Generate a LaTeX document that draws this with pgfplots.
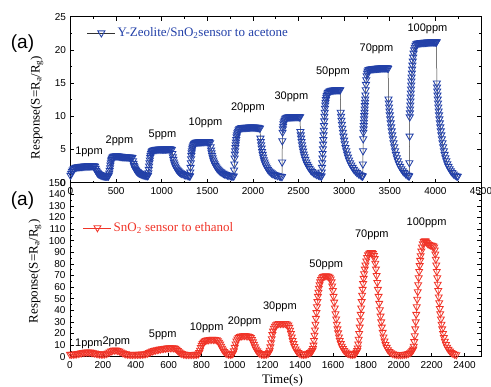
\documentclass[border=0pt]{standalone}
\usepackage{fontspec}
\setmainfont{Liberation Serif}
\setsansfont{Liberation Sans}
\usepackage{pgfplots}
\usepackage{pgfplotstable}
\pgfplotsset{compat=1.18}
\definecolor{zblue}{RGB}{34,64,168}
\definecolor{sred}{RGB}{240,52,40}
\definecolor{lgray}{RGB}{50,50,50}

\pgfplotstableread{
t y
0 1.1
8 1.4
16 1.7
24 1.9
32 2.05
40 2.15
50 2.25
60 2.3
70 2.35
80 2.4
90 2.4
100 2.42
110 2.44
120 2.45
130 2.46
140 2.47
150 2.48
160 2.5
170 2.5
180 2.5
190 2.52
200 2.52
210 2.53
220 2.54
230 2.55
240 2.55
250 2.55
260 2.55
268 2.45
275 2.15
282 1.85
290 1.62
298 1.47
306 1.36
315 1.27
325 1.2
335 1.14
345 1.1
355 1.06
365 1.03
375 1.02
385 1.0
395 1.0
405 1.0
415 1.0
420 1.15
425 1.45
430 1.85
434 2.25
438 2.65
442 3.0
446 3.3
450 3.5
455 3.7
462 3.85
470 3.95
480 4.0
490 4.02
500 4.03
510 4.03
520 4.02
530 4.0
540 3.98
550 3.96
560 3.95
570 3.93
580 3.92
590 3.9
600 3.9
610 3.88
620 3.87
630 3.86
640 3.85
650 3.84
660 3.83
670 3.82
678 3.78
685 3.3
690 2.9
695 2.6
700 2.4
706 2.2
712 2.0
720 1.85
728 1.72
736 1.62
745 1.52
755 1.44
765 1.37
775 1.3
785 1.25
795 1.2
805 1.16
815 1.13
825 1.1
835 1.08
845 1.05
850 1.1
854 1.5
858 2.0
862 2.5
866 3.0
870 3.4
874 3.8
878 4.1
883 4.4
888 4.6
894 4.75
900 4.85
910 4.92
920 4.96
930 5.0
940 5.02
950 5.03
960 5.04
970 5.05
980 5.05
990 5.05
1000 5.06
1010 5.06
1020 5.06
1030 5.07
1040 5.07
1050 5.07
1060 5.08
1070 5.08
1080 5.08
1090 5.08
1100 5.06
1110 4.98
1117 4.4
1122 3.9
1127 3.5
1133 3.1
1140 2.8
1148 2.5
1156 2.25
1165 2.05
1175 1.88
1185 1.73
1196 1.6
1208 1.48
1220 1.38
1235 1.3
1250 1.22
1265 1.15
1280 1.1
1295 1.06
1305 1.03
1310 1.0
1313 1.6
1316 2.3
1319 3.0
1322 3.6
1325 4.1
1328 4.5
1331 4.8
1335 5.1
1339 5.35
1344 5.55
1350 5.75
1357 5.9
1365 6.0
1375 6.08
1385 6.1
1395 6.12
1405 6.14
1415 6.15
1425 6.16
1435 6.17
1445 6.18
1455 6.18
1465 6.19
1475 6.2
1485 6.2
1495 6.2
1505 6.2
1515 6.18
1523 6.12
1530 6.0
1536 5.4
1541 4.9
1546 4.5
1552 4.1
1558 3.75
1565 3.4
1572 3.1
1580 2.85
1588 2.6
1597 2.4
1606 2.2
1616 2.05
1627 1.9
1638 1.75
1650 1.62
1663 1.5
1677 1.4
1691 1.3
1706 1.22
1721 1.15
1736 1.1
1751 1.05
1766 1.0
1780 0.98
1790 1.0
1793 1.9
1796 2.8
1799 3.7
1802 4.3
1805 4.8
1808 5.3
1811 5.7
1814 6.1
1817 6.5
1821 6.9
1825 7.2
1830 7.5
1836 7.75
1843 7.95
1851 8.1
1860 8.2
1870 8.25
1880 8.28
1890 8.3
1900 8.31
1910 8.32
1920 8.33
1930 8.34
1940 8.35
1950 8.35
1960 8.36
1970 8.36
1980 8.37
1990 8.37
2000 8.37
2010 8.37
2020 8.36
2030 8.35
2040 8.34
2050 8.32
2060 8.3
2070 8.27
2077 8.2
2082 6.7
2086 6.2
2090 5.7
2095 5.2
2100 4.7
2106 4.25
2112 3.85
2119 3.45
2127 3.1
2135 2.8
2144 2.5
2154 2.25
2165 2.0
2177 1.8
2190 1.62
2204 1.47
2219 1.34
2235 1.23
2252 1.14
2270 1.07
2290 1.0
2305 0.95
2318 0.9
2320 3.1
2322 6.3
2325 7.6
2328 8.1
2331 8.5
2335 8.85
2340 9.15
2346 9.4
2353 9.6
2362 9.75
2372 9.85
2382 9.88
2392 9.9
2402 9.9
2412 9.92
2422 9.92
2432 9.93
2442 9.93
2452 9.94
2462 9.94
2472 9.95
2482 9.95
2492 9.95
2502 9.94
2510 9.92
2516 9.9
2520 7.7
2524 7.2
2528 6.7
2533 6.2
2538 5.7
2544 5.2
2550 4.75
2557 4.3
2565 3.9
2574 3.5
2584 3.1
2595 2.75
2607 2.45
2620 2.15
2634 1.9
2649 1.68
2665 1.5
2682 1.35
2700 1.22
2718 1.12
2735 1.05
2748 1.0
2752 1.0
2754 1.6
2757 2.3
2759 3.0
2762 3.7
2764 4.4
2767 5.1
2769 5.8
2772 6.5
2774 7.2
2777 7.9
2779 8.6
2782 9.3
2784 10.0
2787 10.6
2790 11.2
2793 11.7
2796 12.1
2800 12.5
2805 12.85
2810 13.1
2816 13.35
2823 13.55
2831 13.7
2840 13.8
2850 13.85
2860 13.9
2870 13.92
2880 13.94
2890 13.96
2900 13.97
2910 13.98
2920 13.99
2930 14.0
2940 14.0
2950 14.0
2958 14.0
2962 10.6
2966 10.0
2970 9.4
2975 8.8
2980 8.2
2986 7.6
2992 7.0
2999 6.4
3006 5.85
3014 5.3
3023 4.8
3032 4.3
3042 3.85
3053 3.4
3065 3.0
3078 2.65
3092 2.3
3107 2.0
3123 1.75
3140 1.52
3158 1.33
3176 1.18
3193 1.05
3200 1.0
3203 1.0
3205 2.8
3207 4.8
3209 6.6
3211 7.6
3213 8.1
3215 8.6
3217 9.1
3219 9.6
3221 10.1
3223 10.6
3225 11.1
3227 11.6
3229 12.1
3231 12.6
3233 13.2
3236 14.0
3239 14.8
3242 15.5
3246 16.1
3251 16.5
3257 16.8
3265 17.0
3275 17.05
3285 17.1
3295 17.12
3305 17.14
3315 17.16
3325 17.18
3335 17.2
3345 17.21
3355 17.22
3365 17.23
3375 17.24
3385 17.25
3395 17.26
3405 17.27
3415 17.28
3425 17.28
3435 17.29
3445 17.3
3455 17.3
3465 17.3
3475 17.28
3482 17.2
3486 12.6
3489 12.0
3492 11.4
3496 10.8
3500 10.2
3505 9.6
3510 9.0
3515 8.4
3521 7.8
3527 7.2
3534 6.6
3541 6.0
3549 5.4
3558 4.8
3567 4.25
3577 3.75
3588 3.3
3600 2.85
3613 2.45
3627 2.1
3642 1.8
3658 1.55
3675 1.33
3692 1.15
3705 1.05
3713 1.0
3715 3.0
3717 7.0
3719 9.9
3721 10.5
3723 11.1
3725 11.7
3727 12.3
3729 12.9
3731 13.5
3733 14.1
3735 14.7
3737 15.3
3739 15.9
3742 16.5
3745 17.1
3748 17.7
3752 18.3
3756 18.9
3761 19.5
3767 20.0
3774 20.4
3782 20.7
3792 20.9
3802 21.0
3812 21.02
3822 21.04
3832 21.06
3842 21.08
3852 21.1
3862 21.11
3872 21.12
3882 21.13
3892 21.14
3902 21.15
3912 21.16
3922 21.17
3932 21.18
3942 21.18
3952 21.19
3962 21.2
3972 21.2
3982 21.2
3992 21.2
4002 21.2
4010 21.2
4013 21.2
4016 15.0
4018 14.4
4020 13.8
4023 13.2
4026 12.6
4029 12.0
4032 11.4
4036 10.8
4040 10.2
4044 9.6
4049 9.0
4054 8.4
4059 7.8
4065 7.2
4071 6.6
4078 6.0
4085 5.4
4093 4.8
4101 4.25
4110 3.75
4120 3.3
4131 2.85
4143 2.45
4156 2.1
4170 1.8
4185 1.52
4201 1.3
4218 1.12
4235 1.0
4245 0.95
}\acetone

\pgfplotstableread{
t y
0 2
10 2
20 2.1
30 2.2
40 2.4
50 2.7
60 3.0
70 3.3
80 3.6
90 3.8
100 4.0
110 4.0
120 3.9
130 3.7
140 3.4
150 3.1
160 2.8
170 2.5
180 2.3
190 2.2
200 2.2
210 2.3
220 2.6
230 3.2
240 4.0
250 4.8
260 5.4
270 5.7
280 5.7
290 5.4
300 4.8
310 4.1
320 3.4
330 2.8
340 2.4
350 2.1
360 2.0
370 1.9
380 1.9
390 1.9
400 2.0
410 2.0
420 2.0
430 2.1
440 2.2
450 2.3
460 2.5
470 2.9
480 3.5
490 4.2
500 4.8
510 5.3
520 5.7
530 6.0
540 6.3
550 6.6
560 6.9
570 7.1
580 7.3
590 7.5
600 7.6
610 7.7
620 7.7
630 7.6
640 7.2
648 6.4
656 5.3
664 4.2
672 3.3
680 2.7
690 2.3
700 2.0
710 1.9
720 1.9
730 1.9
740 1.9
750 1.9
760 2.0
770 2.1
780 2.3
786 3.5
791 5.5
796 7.8
801 9.8
806 11.3
812 12.5
818 13.3
825 13.9
833 14.3
842 14.6
852 14.8
862 14.9
872 14.9
882 14.8
892 14.5
900 13.8
907 12.5
913 10.8
919 9.0
925 7.3
931 5.8
938 4.5
946 3.4
955 2.6
965 2.1
975 2.0
985 2.2
992 3.0
997 5.0
1002 8.0
1007 11.0
1012 13.5
1018 15.3
1025 16.6
1033 17.4
1042 17.9
1052 18.1
1062 18.2
1072 18.1
1082 17.9
1092 17.4
1100 16.4
1107 14.8
1113 12.8
1119 10.6
1125 8.5
1131 6.6
1138 5.0
1146 3.7
1155 2.8
1165 2.2
1175 2.0
1185 2.0
1195 2.2
1205 2.8
1211 3.8
1215 5.5
1219 8.5
1223 12
1227 15.5
1231 19
1235 22
1240 24.5
1246 26.3
1253 27.5
1261 28.2
1270 28.5
1280 28.6
1290 28.6
1300 28.6
1310 28.5
1320 28.2
1328 27.2
1334 25.3
1339 22.8
1344 20.0
1349 17.0
1354 14.0
1359 11.3
1365 8.8
1372 6.6
1380 4.8
1389 3.5
1399 2.6
1410 2.1
1420 2.0
1430 2.1
1440 2.4
1450 2.9
1460 3.5
1468 4.2
1474 5.2
1478 7
1481 10
1484 14
1487 18.5
1490 23
1493 28
1496 33
1499 38
1502 43
1505 47.5
1508 52
1511 55.5
1514 59
1518 62
1522 64.5
1527 66.5
1533 68
1540 69
1548 69.6
1556 69.8
1564 69.6
1572 69.2
1580 68.5
1586 67
1591 64.5
1595 61
1599 57
1603 52
1607 47
1611 42
1615 37
1619 32.5
1623 28
1627 24
1631 20.5
1636 17
1641 14
1647 11.3
1653 9
1660 7
1668 5.4
1677 4.1
1687 3.1
1697 2.5
1708 2.1
1718 2.0
1728 2.2
1736 2.8
1742 3.8
1747 5.2
1750 7.5
1753 11
1756 15
1759 20
1762 25.5
1765 31
1768 36.5
1771 42
1774 47.5
1777 53
1780 58
1783 63
1786 67.5
1789 71.5
1793 75.5
1797 79
1802 82.5
1807 85.5
1813 87.8
1820 89.2
1828 89.8
1836 89.7
1843 89
1849 87.2
1853 84.5
1857 80.5
1861 75.5
1865 70
1869 64
1873 58
1877 52
1881 46
1885 40.5
1889 35
1893 30
1897 25.5
1902 21
1907 17
1913 13.5
1919 10.5
1926 8
1934 6
1943 4.5
1953 3.4
1964 2.6
1976 2.1
1988 1.8
2000 1.7
2012 1.7
2024 1.8
2036 2.0
2048 2.3
2058 2.8
2068 3.4
2076 4.2
2083 5.2
2088 6.5
2091 9
2094 13
2097 18
2100 24
2103 30
2106 36.5
2109 43
2112 49.5
2115 56
2118 62
2121 68
2124 73.5
2127 78.5
2130 83
2133 87
2137 91
2141 94.5
2146 97.3
2152 99.2
2158 100
2164 99.6
2170 98.5
2177 97.3
2185 96.6
2193 96.3
2201 96
2209 95.5
2215 94.5
2219 92
2222 88.5
2225 84
2228 79
2231 73.5
2234 68
2237 62.5
2240 57
2243 51.5
2246 46.5
2249 41.5
2252 37
2256 32.5
2260 28
2264 24
2269 20
2274 16.5
2280 13.3
2287 10.5
2294 8.2
2302 6.3
2311 4.8
2320 3.6
2330 2.7
2340 2.1
2350 1.7
}\ethanol

\pgfplotsset{
  common/.style={
    scale only axis,
    anchor=south west,
    tick align=inside,
    major tick length=4pt,
    minor tick length=2pt,
    every tick/.style={black, line width=0.6pt},
    axis line style={black, line width=0.8pt},
    tick label style={font=\sffamily\fontsize{10}{12}\selectfont},
    /pgf/number format/assume math mode=true,
    /pgf/number format/1000 sep={},
    legend cell align=left,
    ylabel style={font=\fontsize{13}{14}\selectfont, anchor=center},
    yticklabel style={xshift=-1pt},
    xticklabel style={yshift=-1pt},
    legend image code/.code={\draw[mark repeat=2,mark phase=2,#1] plot coordinates {(0pt,0pt) (14pt,0pt) (28pt,0pt)};},
  },
}
\tikzset{ppm/.style={font=\sffamily\fontsize{11}{12}\selectfont}}

\begin{document}
\begin{tikzpicture}
\useasboundingbox (0pt,0pt) rectangle (491pt,387pt);

\begin{axis}[common,
  at={(70.5pt,204.3pt)},
  width=410.5pt, height=166pt,
  xmin=0, xmax=4500, ymin=0, ymax=25,
  xtick={0,500,...,4500}, ytick={0,5,...,25},
  minor x tick num=1, minor y tick num=1,
  ylabel={Response(S=R\textsubscript{a}/R\textsubscript{g})},
  ylabel style={at={(axis description cs:-0.0816,0.453)}},
  legend style={at={(axis description cs:0.04,0.902)}, anchor=west, draw=none, fill=none, inner sep=0pt,
    font=\fontsize{13}{14}\selectfont},
]
\addplot[color=lgray, line width=0.5pt, mark=triangle, mark size=4.1pt,
  mark options={rotate=180, draw=zblue, fill=white, line width=0.85pt, solid}] table {\acetone};
\addlegendentry{\textcolor{zblue}{Y-Zeolite/SnO\textsubscript{2}sensor to acetone}}
\node[ppm] at (axis cs:203,4.6) {1ppm};
\node[ppm] at (axis cs:537,6.3) {2ppm};
\node[ppm] at (axis cs:1008,7.2) {5ppm};
\node[ppm] at (axis cs:1480,9.0) {10ppm};
\node[ppm] at (axis cs:1945,11.25) {20ppm};
\node[ppm] at (axis cs:2422,12.95) {30ppm};
\node[ppm] at (axis cs:2877,16.7) {50ppm};
\node[ppm] at (axis cs:3354,20.1) {70ppm};
\node[ppm] at (axis cs:3913,23.25) {100ppm};
\end{axis}

\begin{axis}[common,
  at={(70pt,30.3pt)},
  width=411pt, height=174pt,
  xmin=0, xmax=2500, ymin=0, ymax=150,
  xtick={0,200,...,2400}, ytick={0,10,...,150},
  minor y tick num=1,
  xtick pos=left,
  xlabel={Time(s)},
  xlabel style={at={(axis description cs:0.517,-0.134)}, anchor=center, font=\fontsize{13}{14}\selectfont},
  ylabel={Response(S=R\textsubscript{a}/R\textsubscript{g})},
  ylabel style={at={(axis description cs:-0.085,0.49)}},
  legend style={at={(axis description cs:0.0316,0.741)}, anchor=west, draw=none, fill=none, inner sep=0pt,
    font=\fontsize{13}{14}\selectfont},
]
\addplot[color=sred, line width=0.5pt, mark=triangle, mark size=4pt,
  mark options={rotate=180, draw=sred, fill=white, line width=0.85pt, solid}] table {\ethanol};
\addlegendentry{\textcolor{sred}{SnO\textsubscript{2} sensor to ethanol}}
\node[ppm] at (axis cs:115,10.9) {1ppm};
\node[ppm] at (axis cs:282,12.9) {2ppm};
\node[ppm] at (axis cs:564,18.7) {5ppm};
\node[ppm] at (axis cs:831,24.7) {10ppm};
\node[ppm] at (axis cs:1062,30.2) {20ppm};
\node[ppm] at (axis cs:1277,42.6) {30ppm};
\node[ppm] at (axis cs:1559,79) {50ppm};
\node[ppm] at (axis cs:1836,104.9) {70ppm};
\node[ppm] at (axis cs:2169,115.5) {100ppm};
\end{axis}

\node[font=\sffamily\fontsize{19}{20}\selectfont] at (22.5pt,343pt) {(a)};
\node[font=\sffamily\fontsize{19}{20}\selectfont] at (22.5pt,186pt) {(a)};
\end{tikzpicture}
\end{document}
